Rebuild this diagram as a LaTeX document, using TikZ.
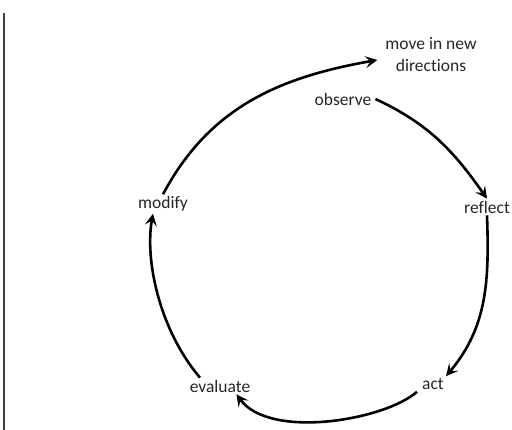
\documentclass[tikz,border=0pt]{standalone}
\usepackage{fontspec}
\setmainfont{Carlito}[Ligatures={NoCommon}]
\usetikzlibrary{arrows.meta}
\tikzset{
  lbl/.style={text=black!85, inner sep=2pt, font=\fontsize{17.5}{22}\selectfont},
  cyc/.style={line width=2.6pt, -{Stealth[length=12pt, width=12pt, inset=5pt]}}
}
\begin{document}
\begin{tikzpicture}[x=1pt, y=-1pt]
\useasboundingbox (0,0) rectangle (512,430);
\draw[line width=1.3pt, black!75] (4,13) -- (4,430);
\node[lbl, align=center] (move) at (431,55) {move in new\\directions};
\node[lbl] (observe) at (343,99) {observe};
\node[lbl] (reflect) at (487,207) {reflect};
\node[lbl] (modify) at (163,204) {modify};
\node[lbl] (evaluate) at (220,386) {evaluate};
\node[lbl] (act) at (433,384) {act};
\draw[cyc] (modify.north) to[out=62, in=190] ([xshift=-6pt,yshift=-5pt]move.west);
\draw[cyc] ([xshift=2pt]observe.east) to[out=-25, in=125] (reflect.north);
\draw[cyc] (reflect.south) to[out=-88, in=50] (act.north east);
\draw[cyc] ([xshift=-3pt]act.south west) .. controls (385,420) and (270,440) .. ([xshift=-16pt]evaluate.south east);
\draw[cyc] ([xshift=-20pt]evaluate.north) .. controls (158,328) and (145,258) .. ([xshift=-10pt]modify.south);
\end{tikzpicture}
\end{document}
